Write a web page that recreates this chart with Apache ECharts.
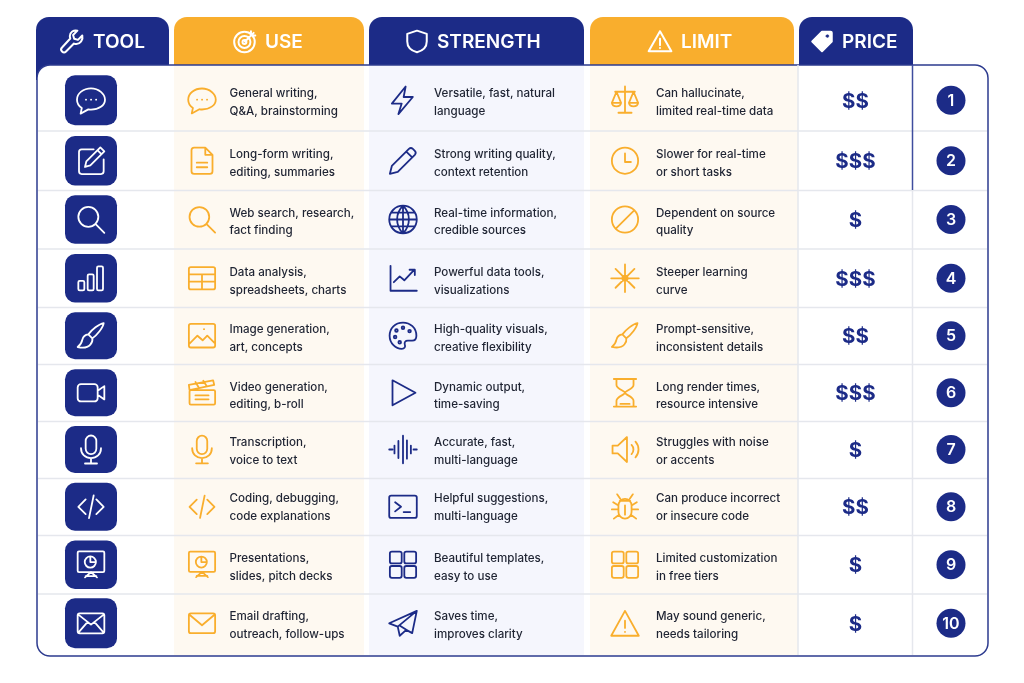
<!DOCTYPE html>
<html lang="en">
<head>
    <meta charset="UTF-8">
    <title>AI tools table</title>
    <script src="https://cdn.jsdelivr.net/npm/echarts@6/dist/echarts.min.js"></script>
    <style>
        *{
            margin: 0;
            padding: 0;
        }
        html,body{
            width: 100%;
            height: 100%;
            overflow: hidden;
            background: #fff;
        }
        .container{
            width: 1024px;
            height: 683px;
        }
    </style>
</head>
<body>
<div class="container"></div>
<script>
    // table content
    const headers = ['TOOL', 'USE', 'STRENGTH', 'LIMIT', 'PRICE']
    const headerIcons = ['wrench', 'target', 'shield', 'warnBig', 'tag']
    const toolIcons = ['chat', 'edit', 'search', 'bars', 'brush', 'video', 'mic', 'code', 'present', 'mailX']
    const useIcons = ['chat', 'doc', 'search', 'table', 'image', 'clapper', 'mic', 'code', 'present', 'mail']
    const strengthIcons = ['bolt', 'pencil', 'globe', 'lineChart', 'palette', 'play', 'wave', 'terminal', 'grid', 'plane']
    const limitIcons = ['scales', 'clock', 'ban', 'burst', 'brush', 'hourglass', 'speaker', 'bug', 'grid', 'warn']
    const useText = [
        'General writing,\nQ&A, brainstorming',
        'Long-form writing,\nediting, summaries',
        'Web search, research,\nfact finding',
        'Data analysis,\nspreadsheets, charts',
        'Image generation,\nart, concepts',
        'Video generation,\nediting, b-roll',
        'Transcription,\nvoice to text',
        'Coding, debugging,\ncode explanations',
        'Presentations,\nslides, pitch decks',
        'Email drafting,\noutreach, follow-ups'
    ]
    const strengthText = [
        'Versatile, fast, natural\nlanguage',
        'Strong writing quality,\ncontext retention',
        'Real-time information,\ncredible sources',
        'Powerful data tools,\nvisualizations',
        'High-quality visuals,\ncreative flexibility',
        'Dynamic output,\ntime-saving',
        'Accurate, fast,\nmulti-language',
        'Helpful suggestions,\nmulti-language',
        'Beautiful templates,\neasy to use',
        'Saves time,\nimproves clarity'
    ]
    const limitText = [
        'Can hallucinate,\nlimited real-time data',
        'Slower for real-time\nor short tasks',
        'Dependent on source\nquality',
        'Steeper learning\ncurve',
        'Prompt-sensitive,\ninconsistent details',
        'Long render times,\nresource intensive',
        'Struggles with noise\nor accents',
        'Can produce incorrect\nor insecure code',
        'Limited customization\nin free tiers',
        'May sound generic,\nneeds tailoring'
    ]
    const priceLevels = [2, 3, 1, 3, 2, 3, 1, 2, 1, 1]
    const ranks = [1, 2, 3, 4, 5, 6, 7, 8, 9, 10]

    // layout, in axis units
    const tabEdges = [[36, 169], [174, 364], [369, 584], [590, 794], [799, 913]]
    const headerIconX = [72, 245, 417, 660, 822]
    const headerLabelX = [93, 265, 437, 681, 842]
    const rowEdges = [131, 190.5, 249, 307.5, 364.5, 421.5, 478.5, 535.5, 594]
    const rowCenters = [100.3, 160.7, 219.5, 278.3, 335.7, 392.8, 449.5, 506.8, 564.7, 623.3]
    const textCenters = [102.6, 163.5, 222, 281.5, 338.7, 396, 451.5, 507.7, 567.4, 625.7]
    const rowHeights = [50, 49.5, 48.5, 48.5, 47, 47, 47, 48, 48.5, 50]
    const bands = [[174, 364, '#fef9f1'], [369, 584, '#f5f6fd'], [590, 798, '#fef9f1']]
    const navy = '#1c2b87'
    const orange = '#f9ae2d'
    const ink = '#1f2433'
    const font = 'Inter'

    function rr(x, y, w, h, r) {
        return `M${x + r} ${y}h${w - 2 * r}a${r} ${r} 0 0 1 ${r} ${r}v${h - 2 * r}a${r} ${r} 0 0 1 ${-r} ${r}h${2 * r - w}a${r} ${r} 0 0 1 ${-r} ${-r}v${2 * r - h}a${r} ${r} 0 0 1 ${r} ${-r}z`
    }
    function circ(cx, cy, r) {
        return `M${cx - r} ${cy}a${r} ${r} 0 1 0 ${2 * r} 0a${r} ${r} 0 1 0 ${-2 * r} 0z`
    }

    // icons drawn on a 24x24 box
    const icons = {
        wrench: 'M21.5 6.5l-4 4-3.5-1-1-3.500 4-4c-3.500-1-7 1.500-7 5 0 .8.1 1.500.4 2.200L2.800 17.500a2.600 2.600 0 0 0 3.700 3.700l7.300-7.300c.7.3 1.400.4 2.200.4 3.500 0 6.500-3.800 5.500-7.800z',
        target: circ(11.500, 12.500, 9.500) + circ(11.500, 12.500, 5.500) + circ(11.500, 12.500, 1.800) + 'M12 12L20 4M17.500 2.500v4h4',
        shield: 'M12 2l9 3v7c0 5-3.800 8.500-9 10-5.200-1.500-9-5-9-10V5z',
        warnBig: 'M12 2.500L1.500 21h21zM12 9.500v6M12 18v.1',
        tag: 'M12 3h8a1 1 0 0 1 1 1v8L12 21 3 12z',
        tagHole: circ(17, 7, 1.300),
        chat: 'M12 3C6.200 3 1.500 6.800 1.500 11.500c0 2.500 1.400 4.800 3.600 6.300L4.200 22l5.800-3.200c.7.100 1.300.2 2 .2 5.800 0 10.500-3.300 10.500-7.500S17.800 3 12 3zM8.200 11.500h.1M12 11.500h.1M15.800 11.500h.1',
        edit: 'M14 3.500H5a2 2 0 0 0-2 2V20a2 2 0 0 0 2 2h14.500a2 2 0 0 0 2-2v-9M19 2l3 3-10.500 10.500-4 1.200 1-4.200zM17 4.200l2.800 2.800',
        search: circ(10, 10, 7.500) + 'M15.500 15.500L22 22',
        bars: rr(2.500, 14, 4.500, 7, 1) + rr(9.500, 9, 4.500, 12, 1) + rr(16.500, 3, 4.500, 18, 1),
        brush: 'M21.500 2.500c-3.500 .6-9 5-11.500 8.500l3 3c3.500-2.500 8-8 8.500-11.500zM10 11c-2.500 .3-4 2-4.500 4-.4 2-1.500 4-3.500 5.500 3.500 .8 7.500 .5 9.500-1.800 1.300-1.500 1.800-3.200 1.500-4.700z',
        video: rr(2, 5.500, 15, 13, 2.500) + 'M17 10.500l5-3.500v10l-5-3.500z',
        mic: rr(8, 1.500, 8, 14, 4) + 'M4.500 11c0 4.500 3.300 7.500 7.500 7.500s7.500-3 7.500-7.500M12 18.500v4M7.500 22.500h9',
        code: 'M8 6.500L2.500 12 8 17.500M16 6.500l5.500 5.500-5.500 5.500M14 3.500L10.500 20.500',
        present: rr(2, 2, 20, 15.500, 1) + circ(11.500, 10, 4.200) + 'M12 17.500l-4.500 4M12 17.500l4.500 4M11.500 5.800V10h4.200M8 20.500h8',
        mailX: rr(2, 4.500, 20, 15, 1.500) + 'M2.500 5.500L12 13l9.500-7.500M2.500 19l7-8M21.500 19l-7-8',
        mail: rr(2, 4.500, 20, 15, 1.500) + 'M2.500 5.500L12 13.500l9.500-8',
        doc: 'M6 2h8.500L20 7.500V20a2 2 0 0 1-2 2H6a2 2 0 0 1-2-2V4a2 2 0 0 1 2-2zM14.500 2v5.500H20M8 13.500h8M8 17h8',
        table: rr(2, 3.500, 20, 17, 1.500) + 'M2 9h20M2 14.500h20M12 9v11.500',
        image: rr(2, 3, 20, 18, 1.500) + 'M2.500 18l6-6 4 3.500 3.500-3.500 5.500 5.500M13.500 7h.1',
        clapper: rr(2.500, 10, 19.500, 11, 1) + 'M2.500 10L2 6l18.500-3.500.8 3.500zM7 3.800L9.500 8M13 2.800l2.500 4M7 14h10M7 17h10',
        bolt: 'M14 1.500L3.500 14.500H11L8.500 22.500 19.500 9.500H12.500z',
        pencil: 'M2 22l1.500-6L16.500 3a2.200 2.200 0 0 1 3 0l1.500 1.500a2.200 2.200 0 0 1 0 3L8 20.500zM14.500 5l4.500 4.500',
        globe: circ(12, 12, 10.500) + 'M1.500 12h21M3 6.800h18M3 17.200h18M12 1.500c-6 6-6 15 0 21M12 1.500c6 6 6 15 0 21M12 1.500v21',
        lineChart: 'M2.500 2.500v19h20M5 15l4.500-4.500 3.500 3 7.500-8M17 5.500h4v4',
        palette: 'M12 2C6 2 1.800 6.200 1.800 12S6.500 22 11 22c2.200 0 3-1.600 2.400-3.200-.6-1.800.4-3 2.300-3h3.200c2 0 3.300-1.500 3.300-3.800C22.200 6 17.500 2 12 2z' + circ(7, 8, 1) + circ(12, 6, 1) + circ(17, 8.500, 1) + circ(6, 13, 1) + circ(9.500, 17, 1),
        play: 'M4 2.500L21.500 12 4 21.500z',
        wave: 'M1.500 12h2.500M5.500 9v6M8.500 5.500v13M12 1.500v21M15 5v14M18 9v6M20 12h2.500',
        terminal: rr(1.500, 3.500, 21, 17, 1.500) + 'M6 8.500l4.500 3.500L6 15.500M12.500 16h5',
        grid: rr(2, 2, 9, 9, 1.500) + rr(13, 2, 9, 9, 1.500) + rr(2, 13, 9, 9, 1.500) + rr(13, 13, 9, 9, 1.500),
        plane: 'M22.500 2.500L1.500 12l6.500 2.500 1.500 7 5-4.500 4.500 2.500zM22.500 2.500L8 14.500l1.500 7M14.500 17L10 14',
        scales: 'M12 1.500v19M7 21.500h10M4.500 5.500h15M5.500 5.500L2 14c.5 3.500 6.500 3.500 7 0zM18.500 5.500L15 14c.5 3.500 6.500 3.500 7 0zM2 14h7M15 14h7',
        clock: circ(12, 12, 10) + 'M12 6.500V13h4.500',
        ban: circ(12, 12, 10) + 'M5 19L19 5',
        burst: 'M12 1.500v21M1.500 12h21M4.800 4.800l14.400 14.400M19.200 4.800L4.800 19.200' + circ(12, 12, 2),
        hourglass: 'M3.500 1.500h17M3.500 22.500h17M5.500 1.500V6c0 3 6.500 4.500 6.500 6s-6.500 3-6.500 6v4.500M18.500 1.500V6c0 3-6.500 4.500-6.500 6s6.500 3 6.500 6v4.500M8.500 20.500h7',
        speaker: 'M2.500 9v6h4l7 6.500v-19L6.500 9zM17 8.500a5 5 0 0 1 0 7M20 6a9 9 0 0 1 0 12',
        bug: 'M7 11a5 5 0 0 1 10 0v5a5 5 0 0 1-10 0zM8 7.500h8M12 11v7M8.500 6L6 2.500M15.500 6L18 2.500M7 11L3 8.500M17 11l4-2.500M7 14H2M17 14h5M7.500 18L3.500 21M16.500 18l4 3',
        warn: 'M12 2.500L1.500 21.500h21zM12 10v5.500M12 18.500v.1'
    }

    // one icon, centred on a point given in pixels
    function icon(name, c, size, color, lw) {
        const s = size / 24
        return {
            type: 'path',
            x: c[0] - 12 * s,
            y: c[1] - 12 * s,
            scaleX: s,
            scaleY: s,
            shape: {pathData: icons[name]},
            style: {fill: 'none', stroke: color, lineWidth: lw / s, lineCap: 'round', lineJoin: 'round'},
            silent: true
        }
    }

    function rect(api, x0, y0, x1, y1, r, fill, stroke) {
        const a = api.coord([x0, y0]), b = api.coord([x1, y1])
        return {
            type: 'rect',
            shape: {x: a[0], y: a[1], width: b[0] - a[0], height: b[1] - a[1], r},
            style: {fill, stroke: stroke || null, lineWidth: stroke ? 1.5 : 0}
        }
    }

    function line(api, x0, y0, x1, y1, color, w) {
        const a = api.coord([x0, y0]), b = api.coord([x1, y1])
        return {
            type: 'line',
            shape: {x1: a[0], y1: a[1], x2: b[0], y2: b[1]},
            style: {stroke: color, lineWidth: w}
        }
    }

    function customSeries(data, renderItem) {
        return {
            type: 'custom',
            coordinateSystem: 'cartesian2d',
            silent: true,
            animation: false,
            clip: false,
            data,
            renderItem
        }
    }

    // column of icon + two text lines
    function cellSeries(iconX, textX, iconNames, texts, color, iconSize) {
        return customSeries(texts.map((t, i) => [iconX, rowCenters[i]]), function (params, api) {
            const i = params.dataIndex
            const c = api.coord([api.value(0), api.value(1)])
            const t = api.coord([textX, textCenters[i]])
            return {
                type: 'group',
                children: [
                    icon(iconNames[i], c, iconSize, color, 1.8),
                    {
                        type: 'text',
                        x: t[0],
                        y: t[1],
                        style: {
                            text: texts[i],
                            fill: ink,
                            font: `500 11.6px ${font}`,
                            lineHeight: 17.5,
                            align: 'left',
                            verticalAlign: 'middle'
                        }
                    }
                ]
            }
        })
    }

    const series = [
        // header tabs
        customSeries(headers.map((h, i) => [tabEdges[i][0], 17]), function (params, api) {
            const i = params.dataIndex
            const e = tabEdges[i]
            const bottom = i === 0 ? 80 : 65
            return rect(api, e[0], 17, e[1], bottom, [13, 13, 0, 0], i % 2 ? orange : navy)
        }),
        // panel
        customSeries([[37, 65]], function (params, api) {
            return rect(api, 37, 65, 988, 656, 13, '#fff', '#2d3b8f')
        }),
        // tinted columns
        customSeries(bands.map(b => [b[0], 66]), function (params, api) {
            const b = bands[params.dataIndex]
            return rect(api, b[0], 66, b[1], 655, 0, b[2])
        }),
        // row lines
        customSeries(rowEdges.map(y => [38, y]), function (params, api) {
            return line(api, 38, api.value(1), 987, api.value(1), '#e5e7ed', 1.5)
        }),
        // column lines
        customSeries([[798, 65], [912.5, 190], [912.5, 65]], function (params, api) {
            const x = api.value(0), y = api.value(1)
            if (params.dataIndex === 2) return line(api, x, y, x, 190, '#3f4d9e', 1.5)
            return line(api, x, y, x, 655, '#e5e7ed', 1.5)
        }),
        // header icons and labels, on top of the panel edge
        customSeries(headers.map((h, i) => [headerIconX[i], 41.5]), function (params, api) {
            const i = params.dataIndex
            const c = api.coord([api.value(0), api.value(1)])
            const l = api.coord([headerLabelX[i], 42.2])
            const ic = icon(headerIcons[i], c, 26, '#fff', 2)
            const children = [ic]
            if (headerIcons[i] === 'tag') {
                ic.style.fill = '#fff'
                const hole = icon('tagHole', c, 26, navy, 0.5)
                hole.style.fill = navy
                children.push(hole)
            }
            children.push({
                type: 'text',
                x: l[0],
                y: l[1],
                style: {
                    text: headers[i],
                    fill: '#fff',
                    font: `600 19px ${font}`,
                    align: 'left',
                    verticalAlign: 'middle'
                }
            })
            return {type: 'group', children}
        }),
        // tool tiles
        customSeries(toolIcons.map((n, i) => [91, rowCenters[i]]), function (params, api) {
            const i = params.dataIndex
            const x = api.value(0), y = api.value(1), h = rowHeights[i]
            return {
                type: 'group',
                children: [
                    rect(api, x - 26, y - h / 2, x + 26, y + h / 2, 10, navy),
                    icon(toolIcons[i], api.coord([x, y]), 32, '#fff', 1.8)
                ]
            }
        }),
        cellSeries(202, 229.5, useIcons, useText, orange, 31.5),
        cellSeries(403, 434, strengthIcons, strengthText, navy, 31.5),
        cellSeries(625, 656, limitIcons, limitText, orange, 31.5),
        // price
        customSeries(priceLevels.map((p, i) => [855.5, rowCenters[i] + 1.2]), function (params, api) {
            const c = api.coord([api.value(0), api.value(1)])
            return {
                type: 'text',
                x: c[0],
                y: c[1],
                style: {
                    text: '$'.repeat(priceLevels[params.dataIndex]),
                    fill: navy,
                    font: `700 20.5px ${font}`,
                    align: 'center',
                    verticalAlign: 'middle'
                }
            }
        }),
        // rank badges
        {
            type: 'scatter',
            symbol: 'circle',
            symbolSize: 29,
            silent: true,
            animation: false,
            itemStyle: {color: navy, opacity: 1},
            label: {
                show: true,
                position: 'inside',
                offset: [0, 0.8],
                formatter: p => p.value[2],
                color: '#fff',
                fontFamily: font,
                fontWeight: 600,
                fontSize: 16
            },
            data: ranks.map((r, i) => [951, rowCenters[i], r])
        }
    ]

    window.onload = function () {
        let mycharts = echarts.init(document.querySelector('.container'))
        mycharts.setOption({
            backgroundColor: '#fff',
            animation: false,
            grid: {left: 0, right: 0, top: 0, bottom: 0},
            xAxis: {type: 'value', min: 0, max: 1024, show: false},
            yAxis: {type: 'value', min: 0, max: 683, inverse: true, show: false},
            series
        })
    }
</script>
</body>
</html>
